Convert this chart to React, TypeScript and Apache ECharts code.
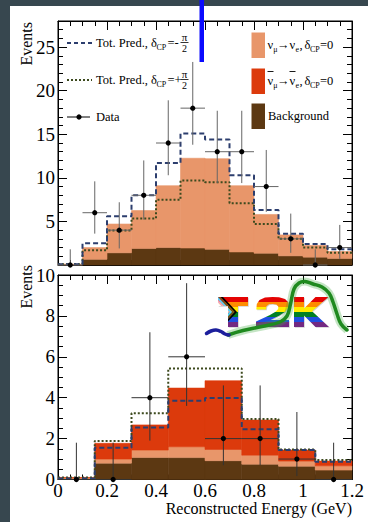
import React, { useEffect, useRef } from 'react';
import * as echarts from 'echarts';

// ---------- data ----------
const topBinEdges = [0, 0.1, 0.2, 0.3, 0.4, 0.5, 0.6, 0.7, 0.8, 0.9, 1.0, 1.1, 1.2];
const topBackground = [0.05, 0.65, 1.4, 1.9, 2.0, 1.95, 1.8, 1.5, 1.35, 1.05, 0.9, 0.75];
const topNumuToNue = [0.05, 1.35, 3.3, 4.35, 7.1, 10.3, 10.4, 7.6, 4.45, 2.4, 1.35, 0.8];
const topPredMinusHalfPi = [0.1, 2.5, 5.6, 8.0, 11.7, 15.1, 14.4, 10.3, 6.3, 3.6, 2.4, 1.8];
const topPredPlusHalfPi = [0.1, 1.7, 3.95, 5.35, 7.5, 9.7, 9.5, 7.1, 4.7, 3.0, 2.0, 1.4];
const topDataX = [0.05, 0.15, 0.25, 0.35, 0.45, 0.55, 0.65, 0.75, 0.85, 0.95, 1.05, 1.15];
const topDataY = [0, 6, 4, 8, 14, 18, 13, 13, 9, 3, 0, 2];
const topDataLow = [0, 3.6, 1.9, 5.2, 10.3, 13.8, 9.4, 9.4, 6.1, 1.4, 0, 0.7];
const topDataHigh = [1.8, 9.6, 7.2, 12.0, 18.9, 23.3, 17.7, 17.7, 13.2, 5.9, 1.8, 4.6];

const bottomBinEdges = [0, 0.15, 0.3, 0.45, 0.6, 0.75, 0.9, 1.05, 1.2];
const bottomBackground = [0.05, 0.8, 1.08, 1.07, 0.92, 0.75, 0.65, 0.46];
const bottomNumuToNue = [0.03, 0.2, 0.36, 0.53, 0.55, 0.44, 0.25, 0.21];
const bottomAntiNumuToAntiNue = [0.02, 0.77, 1.23, 2.87, 3.36, 1.72, 0.54, 0.23];
const bottomPredMinusHalfPi = [0.05, 1.55, 2.54, 3.85, 3.98, 2.46, 1.44, 0.87];
const bottomPredPlusHalfPi = [0.1, 1.88, 3.24, 5.43, 5.43, 2.96, 1.47, 0.95];
const bottomDataX = [0.075, 0.225, 0.375, 0.525, 0.675, 0.825, 0.975, 1.125];
const bottomDataY = [0, 0, 4, 6, 2, 2, 1, 0];
const bottomDataLow = [0, 0, 1.9, 3.6, 0.7, 0.7, 0.17, 0];
const bottomDataHigh = [1.8, 1.8, 7.2, 9.6, 4.6, 4.6, 3.3, 1.8];

// ---------- styles ----------
const SERIF = "'Liberation Serif', 'Times New Roman', serif";
const C_NUMU = '#e8966a';
const C_ANTI = '#dc3a0c';
const C_BKG = '#5c3812';
const C_DASH = '#2c3e6e';
const C_DOT = '#3d4a1e';

function stackedLayers(edges: number[], layers: number[][]) {
  const base = edges.slice(0, -1).map(() => 0);
  return layers.map((layer) =>
    layer.map((v, i) => {
      const b = base[i];
      base[i] = b + v;
      return [edges[i], edges[i + 1], b, b + v];
    })
  );
}

function fillSeries(data: number[][], color: string, xi: number, yi: number) {
  return {
    type: 'custom',
    xAxisIndex: xi,
    yAxisIndex: yi,
    silent: true,
    z: 2,
    encode: { x: [0, 1], y: [2, 3] },
    data,
    renderItem: (_p: any, api: any) => {
      const a = api.coord([api.value(0), api.value(3)]);
      const b = api.coord([api.value(1), api.value(2)]);
      return {
        type: 'rect',
        shape: { x: a[0], y: a[1], width: b[0] - a[0], height: b[1] - a[1] },
        style: { fill: color, stroke: color, lineWidth: 0.6 },
      };
    },
  };
}

function stepSeries(edges: number[], vals: number[], color: string, dash: number[], xi: number, yi: number) {
  const data = edges.map((e, i) => [e, vals[Math.min(i, vals.length - 1)]]);
  return {
    type: 'line',
    xAxisIndex: xi,
    yAxisIndex: yi,
    step: 'end',
    symbol: 'none',
    silent: true,
    z: 4,
    data,
    lineStyle: { color, width: 2, type: dash },
  };
}

function dataSeries(xs: number[], ys: number[], lo: number[], hi: number[], hw: number, xi: number, yi: number, col: string) {
  return {
    type: 'custom',
    xAxisIndex: xi,
    yAxisIndex: yi,
    silent: true,
    z: 6,
    encode: { x: 0, y: 1 },
    data: xs.map((x, i) => [x, ys[i], lo[i], hi[i], hw]),
    renderItem: (_p: any, api: any) => {
      const x = api.value(0), y = api.value(1), l = api.value(2), h = api.value(3), w = api.value(4);
      const c = api.coord([x, y]);
      const cl = api.coord([x, l]);
      const ch = api.coord([x, h]);
      const c0 = api.coord([x - w, y]);
      const c1 = api.coord([x + w, y]);
      return {
        type: 'group',
        children: [
          { type: 'line', shape: { x1: c[0], y1: cl[1], x2: c[0], y2: ch[1] }, style: { stroke: col, lineWidth: 1 } },
          { type: 'line', shape: { x1: c0[0], y1: c[1], x2: c1[0], y2: c[1] }, style: { stroke: col, lineWidth: 1 } },
          { type: 'circle', shape: { cx: c[0], cy: c[1], r: 2.6 }, style: { fill: '#000' } },
        ],
      };
    },
  };
}

function mkX(grid: number, pos: string, showLabel: boolean) {
  return {
    type: 'value',
    gridIndex: grid,
    position: pos,
    min: 0,
    max: 1.2,
    interval: 0.2,
    axisLine: { show: true, onZero: false, lineStyle: { color: '#000', width: 1 } },
    axisTick: { show: true, inside: true, length: 9, lineStyle: { color: '#000', width: 1 } },
    minorTick: { show: true, splitNumber: 4, length: 5, lineStyle: { color: '#000', width: 1 } },
    splitLine: { show: false },
    minorSplitLine: { show: false },
    axisLabel: {
      show: showLabel,
      margin: 3,
      color: '#000',
      fontFamily: SERIF,
      fontSize: 19,
      lineHeight: 15,
      formatter: (v: number) => String(Number(v.toFixed(2))),
    },
  };
}

function mkY(grid: number, pos: string, max: number, interval: number, minor: number, showLabel: boolean, fmt: (v: number) => string) {
  return {
    type: 'value',
    gridIndex: grid,
    position: pos,
    min: 0,
    max,
    interval,
    axisLine: { show: true, onZero: false, lineStyle: { color: '#000', width: 1 } },
    axisTick: { show: true, inside: true, length: 9, lineStyle: { color: '#000', width: 1 } },
    minorTick: { show: true, splitNumber: minor, length: 5, lineStyle: { color: '#000', width: 1 } },
    splitLine: { show: false },
    minorSplitLine: { show: false },
    axisLabel: { show: showLabel, margin: 3, color: '#000', fontFamily: SERIF, fontSize: 19, formatter: fmt },
  };
}

// ---------- graphic helpers ----------
function txt(x: number, y: number, text: string, size = 12.5, align = 'left', extra: any = {}) {
  return {
    type: 'text',
    x,
    y,
    z: 50,
    silent: true,
    ...extra,
    style: { text, fontFamily: SERIF, fontSize: size, fill: '#000', textAlign: align, textVerticalAlign: 'middle' },
  };
}
function seg(x1: number, y1: number, x2: number, y2: number, stroke: string, lineWidth: number, lineDash?: number[]) {
  return { type: 'line', z: 50, silent: true, shape: { x1, y1, x2, y2 }, style: { stroke, lineWidth, lineDash } };
}

function clipHalf(poly: number[][], inside: (p: number[]) => boolean, inter: (a: number[], b: number[]) => number[]) {
  const out: number[][] = [];
  for (let i = 0; i < poly.length; i++) {
    const cur = poly[i];
    const prev = poly[(i + poly.length - 1) % poly.length];
    const ci = inside(cur), pi = inside(prev);
    if (ci) {
      if (!pi) out.push(inter(prev, cur));
      out.push(cur);
    } else if (pi) out.push(inter(prev, cur));
  }
  return out;
}
function clipRect(poly: number[][], x0: number, y0: number, x1: number, y1: number) {
  const ix = (a: number[], b: number[], x: number) => [x, a[1] + ((b[1] - a[1]) * (x - a[0])) / (b[0] - a[0])];
  const iy = (a: number[], b: number[], y: number) => [a[0] + ((b[0] - a[0]) * (y - a[1])) / (b[1] - a[1]), y];
  let p = poly;
  p = clipHalf(p, (q) => q[0] >= x0, (a, b) => ix(a, b, x0));
  if (p.length) p = clipHalf(p, (q) => q[0] <= x1, (a, b) => ix(a, b, x1));
  if (p.length) p = clipHalf(p, (q) => q[1] >= y0, (a, b) => iy(a, b, y0));
  if (p.length) p = clipHalf(p, (q) => q[1] <= y1, (a, b) => iy(a, b, y1));
  return p;
}

function rainbow() {
  const cols = ['#e40303', '#ff8c00', '#ffed00', '#008026', '#1f4fe0', '#732982'];
  const stops: any[] = [];
  cols.forEach((c, i) => {
    stops.push({ offset: i / 6, color: c });
    stops.push({ offset: (i + 1) / 6, color: c });
  });
  return new echarts.graphic.LinearGradient(0, 0, 0, 1, stops);
}

function logoElements() {
  const els: any[] = [];
  const T = [[218, 297], [248, 297], [248, 306], [238, 306], [238, 327], [228, 327], [228, 306], [218, 306]];
  const TWO = [
    [256, 327], [289, 327], [289, 320], [270.5, 320], [279.5, 315.5], [285.5, 311.5], [288.5, 307], [288.5, 302.5],
    [285, 299], [279, 297.2], [272.5, 296.9], [265, 297.4], [259.5, 300], [256.8, 304], [256.3, 309.5], [266, 309.5],
    [266.5, 306.2], [269, 304.3], [272.5, 303.9], [276.3, 304.4], [278.3, 306.4], [278.2, 309], [275.5, 311.8],
    [269.5, 315.3], [256, 321.5],
  ];
  const K = [[294, 297], [304, 297], [304, 308.5], [315.5, 297], [328.5, 297], [312, 311.3], [329, 327], [315.5, 327], [304, 315.5], [304, 327], [294, 327]];
  const green = [[228, 335], [243, 330.5], [262, 326.5], [280, 322], [287, 316], [290.5, 304], [294, 289], [299, 283], [305, 281.5], [313, 284], [322, 287], [329, 293], [333, 302], [337, 314], [341, 324], [347, 330]];
  const blue = [[206.5, 333.5], [211, 331], [216, 330], [221, 331.5], [225, 334], [229, 335]];
  [T, TWO, K].forEach((pts) => {
    els.push({ type: 'polygon', z: 40, silent: true, shape: { points: pts.map((p) => [p[0] + 0.8, p[1] + 0.8]) }, style: { fill: 'rgba(0,0,0,0.18)' } });
    els.push({ type: 'polygon', z: 41, silent: true, shape: { points: pts }, style: { fill: rainbow() } });
  });
  // progress-pride chevron on the T
  const chev = ['#000000', '#7a4f17', '#5bcefa', '#f5a9b8', '#ffffff'];
  const A = 237;
  const w = 2.5;
  chev.forEach((col, k) => {
    const d = k * w;
    const ww = k === chev.length - 1 ? 40 : w;
    const upper = [[A - d - 15, 296], [A - d, 312], [A - d - ww, 312], [A - d - ww - 15, 296]];
    const lower = [[A - d, 312], [A - d - 15, 328], [A - d - ww - 15, 328], [A - d - ww, 312]];
    [upper, lower].forEach((half) => {
      [[218, 297, 248, 306], [228, 306, 238, 327]].forEach((r) => {
        const p = clipRect(half, r[0], r[1], r[2], r[3]);
        if (p.length >= 3) els.push({ type: 'polygon', z: 42, silent: true, shape: { points: p }, style: { fill: col } });
      });
    });
  });
  els.push({ type: 'polyline', z: 43, silent: true, shape: { points: green, smooth: 0.4 }, style: { stroke: 'rgba(60,170,60,0.3)', lineWidth: 8, fill: null } });
  els.push({ type: 'polyline', z: 44, silent: true, shape: { points: green, smooth: 0.4 }, style: { stroke: '#1f8a1f', lineWidth: 3.5, fill: null, lineCap: 'round' } });
  els.push({ type: 'polyline', z: 44, silent: true, shape: { points: blue, smooth: 0.4 }, style: { stroke: '#1c1f9c', lineWidth: 3.5, fill: null, lineCap: 'round' } });
  return els;
}

function legendElements() {
  const els: any[] = [];
  const rows = [43, 80];
  const signs = ['-', '+'];
  rows.forEach((y, i) => {
    els.push(seg(67, y, 92, y, i === 0 ? C_DASH : C_DOT, 2, i === 0 ? [4, 3] : [2, 2]));
    els.push(txt(96, y, 'Tot. Pred., δ'));
    els.push(txt(156.5, y + 4, 'CP', 8));
    els.push(txt(167.5, y, '='));
    els.push(txt(174.5, y, signs[i]));
    els.push(txt(184.5, y - 6, 'π', 11, 'center'));
    els.push(seg(180.5, y - 0.5, 188.5, y - 0.5, '#000', 0.8));
    els.push(txt(184.5, y + 5.5, '2', 10, 'center'));
  });
  els.push(seg(67, 117, 90, 117, '#000', 1));
  els.push({ type: 'circle', z: 50, silent: true, shape: { cx: 79, cy: 117, r: 2.6 }, style: { fill: '#000' } });
  els.push(txt(96, 117, 'Data'));

  const boxes = [
    [32.5, C_NUMU],
    [68.5, C_ANTI],
    [103.5, C_BKG],
  ];
  boxes.forEach(([y, c]) => {
    els.push({ type: 'rect', z: 50, silent: true, shape: { x: 251.5, y: y as number, width: 13.5, height: 25.5 }, style: { fill: c as string } });
  });
  [45, 81].forEach((y, i) => {
    els.push(txt(267.5, y, 'ν'));
    els.push(txt(273.3, y + 4, 'μ', 8));
    els.push(txt(277, y, '→'));
    els.push(txt(289.5, y, 'ν'));
    els.push(txt(295.5, y + 4, 'e', 8));
    els.push(txt(299.5, y, ','));
    els.push(txt(304.5, y, 'δ'));
    els.push(txt(310, y + 4, 'CP', 8));
    els.push(txt(320, y, '=0'));
    if (i === 1) {
      els.push(seg(267.5, y - 9.5, 273.5, y - 9.5, '#000', 0.9));
      els.push(seg(289.5, y - 9.5, 295.5, y - 9.5, '#000', 0.9));
    }
  });
  els.push(txt(268, 116, 'Background'));
  return els;
}

function buildOption() {
  const topFills = stackedLayers(topBinEdges, [topBackground, topNumuToNue]);
  const botFills = stackedLayers(bottomBinEdges, [bottomBackground, bottomNumuToNue, bottomAntiNumuToAntiNue]);
  const topHalfWidth = (topBinEdges[1] - topBinEdges[0]) / 2;
  const botHalfWidth = (bottomBinEdges[1] - bottomBinEdges[0]) / 2;

  return {
    animation: false,
    backgroundColor: '#37474f',
    grid: [
      { left: 58, top: 21, width: 294, height: 244, show: true, borderColor: '#000', borderWidth: 1, backgroundColor: 'transparent' },
      { left: 58, top: 275, width: 294, height: 204.5, show: true, borderColor: '#000', borderWidth: 1, backgroundColor: 'transparent' },
    ],
    xAxis: [mkX(0, 'bottom', false), mkX(0, 'top', false), mkX(1, 'bottom', true), mkX(1, 'top', false)],
    yAxis: [
      mkY(0, 'left', 28, 5, 5, true, (v: number) => (v > 0 && v % 5 === 0 ? String(v) : '')),
      mkY(0, 'right', 28, 5, 5, false, (v: number) => String(v)),
      mkY(1, 'left', 10, 2, 4, true, (v: number) => String(v)),
      mkY(1, 'right', 10, 2, 4, false, (v: number) => String(v)),
    ],
    series: [
      fillSeries(topFills[0], C_BKG, 0, 0),
      fillSeries(topFills[1], C_NUMU, 0, 0),
      stepSeries(topBinEdges, topPredPlusHalfPi, C_DOT, [2, 2], 0, 0),
      stepSeries(topBinEdges, topPredMinusHalfPi, C_DASH, [5, 3], 0, 0),
      dataSeries(topDataX, topDataY, topDataLow, topDataHigh, topHalfWidth, 0, 0, '#666'),
      fillSeries(botFills[0], C_BKG, 2, 2),
      fillSeries(botFills[1], C_NUMU, 2, 2),
      fillSeries(botFills[2], C_ANTI, 2, 2),
      stepSeries(bottomBinEdges, bottomPredPlusHalfPi, C_DOT, [2, 2], 2, 2),
      stepSeries(bottomBinEdges, bottomPredMinusHalfPi, C_DASH, [5, 3], 2, 2),
      dataSeries(bottomDataX, bottomDataY, bottomDataLow, bottomDataHigh, botHalfWidth, 2, 2, '#333'),
    ],
    graphic: [
      { type: 'rect', z: -100, silent: true, shape: { x: 10, y: 6, width: 358, height: 516 }, style: { fill: '#ffffff' } },
      txt(26, 22, 'Events', 16, 'right', { rotation: Math.PI / 2 }),
      txt(26, 265, 'Events', 16, 'right', { rotation: Math.PI / 2 }),
      txt(352, 508, 'Reconstructed Energy (GeV)', 16, 'right'),
      ...legendElements(),
      ...logoElements(),
      { type: 'rect', z: 100, silent: true, shape: { x: 199.5, y: 0, width: 4.5, height: 62 }, style: { fill: '#0a0aff' } },
    ],
  };
}

export default function App() {
  const ref = useRef<HTMLDivElement>(null);
  useEffect(() => {
    if (!ref.current) return;
    const chart = echarts.init(ref.current, null, { renderer: 'svg' });
    chart.setOption(buildOption() as any);
    return () => chart.dispose();
  }, []);
  return <div ref={ref} style={{ position: 'fixed', left: 0, top: 0, width: 368, height: 522 }} />;
}
